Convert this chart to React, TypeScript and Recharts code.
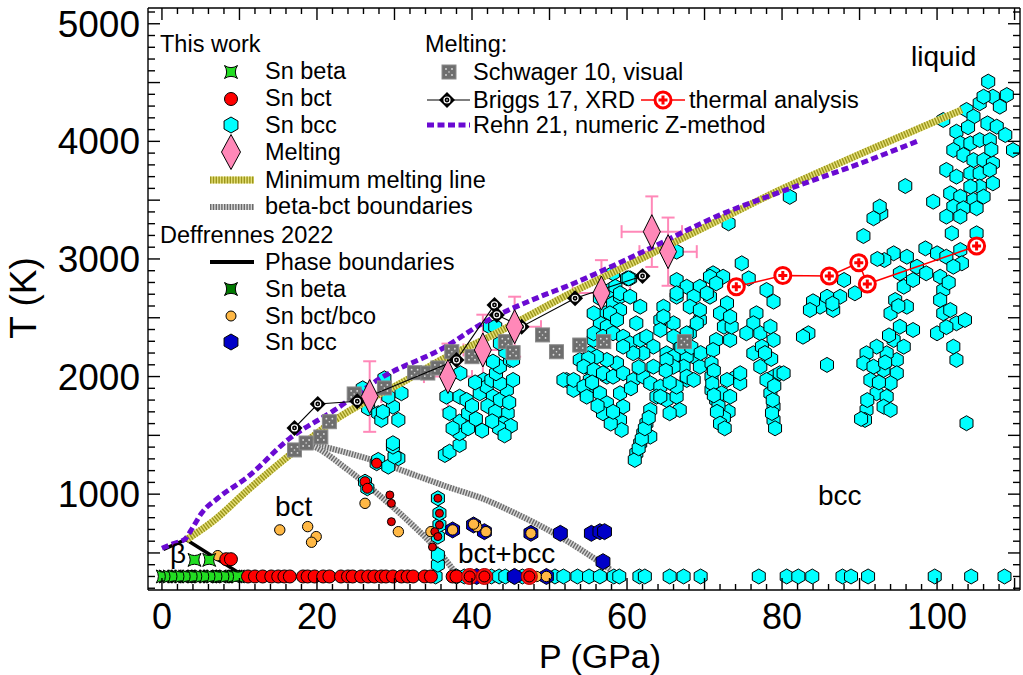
import React from "react";
import { ScatterChart, Scatter, XAxis, YAxis, ErrorBar } from "recharts";

const W = 1023;
const H = 675;
const FONT = "'Liberation Sans', Arial, Helvetica, sans-serif";

// tick values
const X_TICKS = Array.from({ length: 56 }, (_, i) => i * 2);
const Y_TICKS = Array.from({ length: 50 }, (_, i) => 200 + i * 100);

// [P (GPa), T (K)]
const MIN_MELT = [
  [3.1, 610], [6.8, 781], [11.1, 1036], [17, 1360], [22.3, 1630], [27.5, 1830],
  [31, 1950], [36.5, 2160], [41.4, 2310], [46, 2470], [52.3, 2694], [60, 2943],
  [72, 3335], [80, 3595], [90, 3890], [103.2, 4268],
];
const REHN = [
  [0, 540], [1.5, 580], [3, 620], [4, 720], [5.1, 838], [7.2, 965], [11.1, 1149],
  [16.4, 1470], [22.3, 1716], [28.3, 1990], [36.5, 2250], [41.4, 2455], [48.8, 2680],
  [52.3, 2770], [62, 3060], [72, 3375], [80, 3575], [90, 3810], [97.8, 4010],
];
const PHASE_BOUND = [[0.2, 530], [3.1, 615], [10.2, 320]];
const BB_UPPER = [
  [18.5, 1430], [19.7, 1418], [24, 1350], [28.3, 1265], [32.6, 1163], [36.9, 1061],
  [41.2, 967], [45.5, 840], [49.8, 696], [54.1, 526], [57.9, 356],
];
const BB_LOWER = [
  [18.5, 1430], [19.2, 1416], [24, 1206], [28.3, 976], [32.6, 721], [35.2, 551], [37.8, 339],
];
const SCHWAGER = [
  [17.1, 1376], [18.6, 1435], [20.5, 1486], [21.6, 1616], [24.8, 1852], [28.7, 1903],
  [32.6, 2033], [34.3, 2030], [35.6, 2073], [37.4, 2211], [40, 2169], [44.3, 2297],
  [45.3, 2203], [49.1, 2354], [50.9, 2211], [53.9, 2268], [57, 2297], [67.4, 2297],
];
const BRIGGS = [
  [17.1, 1563], [20.1, 1767], [25.2, 1790], [38, 2141], [42.9, 2609], [43.2, 2524],
  [46.4, 2424], [53.3, 2666], [62, 2855],
];
const THERMAL = [[74.1, 2764], [80.1, 2860], [86.1, 2855], [89.9, 2968], [91, 2787], [105.1, 3110]];
// [P, T, errP, errT]
const MELT = [
  [26.8, 1830, 1.5, 300], [36.9, 2000, 3.1, 280], [41.4, 2226, 2.5, 300], [45.5, 2424, 3.4, 255],
  [56.7, 2710, 3.7, 280], [63.2, 3232, 3.9, 300], [65.3, 3062, 3.7, 290],
];

const BETA_THIS = [
  [0.1, 300], [1, 300], [1.6, 300], [2.5, 300], [3.4, 300], [4.2, 300], [5.1, 300],
  [5.7, 300], [6.6, 300], [7.4, 300], [8.3, 300], [9.2, 300], [9.8, 300], [4.2, 441], [6.1, 441],
];
const BETA_DEF = [[0.5, 300], [2, 300], [3, 300], [4.7, 300], [6.2, 300], [7.8, 300], [9.5, 300]];
const BCT_THIS = [
  [11.1, 300], [12, 300], [13, 300], [14.1, 300], [15, 300], [15.8, 300], [16.5, 300],
  [18.2, 300], [18.8, 300], [19.7, 300], [20.8, 300], [21.6, 300], [23.1, 300], [24, 300],
  [24.6, 300], [25.7, 300], [26.6, 300], [27.4, 300], [28.3, 300], [28.9, 300], [29.8, 300],
  [30.9, 300], [31.7, 300], [32.4, 300], [33.9, 300], [34.7, 300], [37.5, 300], [38, 300],
  [8.3, 447], [8.9, 447],
];
const BCT_RING = [[39.7, 300], [41.6, 300], [47.4, 300]];
const BCT_MID = [[26.2, 1106], [26.5, 1050], [27.7, 1263]];
const BCT_SMALL = [
  [29.4, 993], [29.6, 922], [29.6, 766], [34.9, 551], [35.2, 681], [35.6, 965],
  [35.8, 837], [35.8, 738], [35.6, 639],
];
const BCO_DEF = [
  [7.2, 477], [15.2, 696], [18.8, 724], [19.9, 639], [19.3, 591], [26.2, 922], [30.5, 681],
  [34.7, 681], [37.5, 696], [40.6, 724], [40.2, 745], [41.8, 681], [47.6, 667],
  [41.2, 300], [48.3, 300], [49.6, 300],
];
const BCC_DEF = [
  [37.5, 696], [40.2, 738], [41.6, 681], [47.6, 667], [51.4, 667], [55.4, 667], [56.5, 681],
  [57.1, 681], [56.9, 426], [40.6, 300], [45.5, 300], [49.6, 300],
];
const BCC_THIS = [
  // 300 K row
  [35.3, 300], [38, 300], [39, 300], [42.5, 300], [43.5, 300], [44.3, 300], [45.4, 300],
  [46.5, 300], [50.7, 300], [51.8, 300], [53.6, 300], [55.1, 300], [56.5, 300], [58.3, 300],
  [59, 300], [61.6, 300], [62.3, 300], [65.5, 300], [67.3, 300], [69.5, 300], [77, 300],
  [80.6, 300], [82.1, 300], [83.9, 300], [87.8, 300], [88.9, 300], [91.1, 300], [99.7, 300],
  [104.4, 300], [108.7, 300],
  // 36 GPa column
  [35.6, 400], [35.6, 483], [35.6, 639], [35.8, 738], [35.8, 837], [35.6, 965],
  // 26-31 GPa
  [26.2, 1106], [26.5, 1050], [27.7, 1263], [27.9, 1291], [29.2, 1234], [30.5, 1305],
  [30, 1319], [29.8, 1404], [29.8, 1433], [26.6, 1730], [27.9, 1688], [28.3, 1631],
  [29.8, 1744], [30.5, 1631], [30.9, 1858], [28.7, 1985], [25.9, 1900], [29.2, 1829], [28.5, 1700],
  // 36-46 GPa
  [36.5, 1333], [37.1, 1361], [38.4, 1418], [38.4, 1518], [38.4, 1617], [37.1, 1688],
  [39.5, 1688], [36.7, 1829], [38.4, 1829], [39.3, 1801], [38.5, 2028], [41, 1858],
  [41.5, 1971], [41.9, 1914], [42.5, 1971], [42.7, 1829], [43.6, 1801], [44, 1659],
  [44.6, 1688], [44.5, 1886], [43.6, 1943], [43.1, 2028], [43.6, 2084], [42.7, 2127],
  [44.9, 2141], [45.3, 2141], [44.3, 2212], [43.6, 2283], [42.3, 2424], [43, 2424],
  [45.3, 1971], [40, 1750], [42, 1750], [43, 1700], [44, 1600], [45, 1580], [43.5, 1560],
  [42.6, 1620], [39.5, 1560], [37.5, 1560], [40.5, 1640], [41.3, 1540], [44.2, 1500],
  [44.8, 1780], [40.4, 1950],
  // 50-63 GPa
  [54.8, 2084], [55.2, 2198], [55.7, 2311], [56.5, 2424], [57.2, 2538], [58.2, 2623],
  [59.1, 2679], [60.4, 2835], [55.2, 1971], [53.9, 2141], [57.4, 1999], [52.2, 1971],
  [53.1, 1886], [54.8, 1858], [61.2, 2453], [61.7, 2594], [58.2, 2878], [60, 2835],
  [57.8, 2736], [56.5, 2666], [51.8, 1971], [53.1, 1971], [54.4, 1914], [54.8, 1829],
  [56.5, 1858], [57.4, 1773], [56.9, 1688], [59.1, 1858], [59.5, 1744], [59.1, 1631],
  [59.3, 1546], [60.2, 2835], [58.5, 2764], [59.1, 2708], [60.4, 2679], [59.1, 2566],
  [57.8, 2538], [56.5, 2453], [55.7, 2538], [57.4, 2424], [58.7, 2481], [55.7, 2368],
  [56.9, 2339], [58.2, 2368], [59.5, 2339], [60.4, 2283], [61.7, 2311], [62.5, 2339],
  [63.4, 2254], [62.1, 2198], [60.8, 2198], [59.5, 2254], [58.7, 2113], [57.4, 2141],
  [56.1, 2169], [55, 2155], [54.4, 2084], [55.7, 2056], [56.9, 2028], [58.2, 1999],
  [59.5, 2028], [60.8, 1971], [62.1, 1999], [63.4, 2084], [63, 1943], [64.3, 1914],
  [63.8, 1829], [65.1, 1801], [66.4, 1829], [66.8, 1716], [65.5, 1688], [63, 1716],
  [62.5, 1603], [62.1, 1518], [61.7, 1433], [61.2, 1348], [61, 1291], [63, 1489],
  [61.5, 1390], [61.9, 1470], [62.3, 1560], [62.8, 1650], [57.9, 1600], [58.2, 1700],
  [56.2, 1750], [55.5, 1950], [60.5, 1900], [61.5, 2080],
  // 64-72 GPa
  [66.4, 2821], [67.7, 2764], [69.4, 2764], [71.1, 2878], [66.4, 2679], [64.7, 2594],
  [64.3, 2481], [66, 2453], [68.1, 2368], [69.4, 2481], [70.7, 2679], [66.8, 2254],
  [65.1, 2198], [68.6, 2169], [67.7, 1971], [69.4, 2084], [66.4, 1914], [64.3, 1829],
  [66.4, 3062], [70.7, 2849], [72.4, 2849], [71.5, 2792], [66.4, 2708], [68.6, 2679],
  [70.3, 2708], [68.1, 2594], [69.4, 2566], [69, 2453], [67.7, 2368], [64.7, 2509],
  [64.3, 2396], [66, 2339], [67.7, 2169], [67.3, 2084], [67.7, 1999], [68.6, 1971],
  [66, 2169], [66, 2084], [65.1, 2141], [65.5, 1950], [65, 2050], [67, 2250], [68.3, 2250],
  [69.5, 2200],
  // 70-81 GPa
  [72.9, 2623], [72, 2538], [72.5, 2424], [71.5, 2311], [71.1, 2226], [70.9, 2113],
  [70.9, 1999], [70.9, 1886], [71.5, 1801], [73.3, 2311], [73.5, 2424], [73.3, 2509],
  [74.1, 1999], [74.6, 1943], [73.1, 1702], [72.2, 1858], [72.9, 1971], [73.3, 1829],
  [74.6, 2028], [71.8, 1750], [72.5, 1650], [71.2, 2050], [71, 1940], [71.2, 1840],
  [71.6, 1700], [72, 1600], [72.6, 1560],
  [81, 3528], [73.1, 3303], [74.8, 2963], [75.7, 2835], [78, 2736], [78.9, 2637],
  [76.7, 2538], [76.3, 2453], [77.2, 2368], [78.5, 2424], [78.9, 2311], [75.4, 2368],
  [76.3, 2198], [77.2, 2084], [78.9, 1999], [79.7, 2028], [78.5, 1858], [78.9, 1744],
  [78.9, 1631], [79.1, 1560], [80.2, 2028], [78, 1971], [77.4, 2254], [78.7, 1690],
  [78.8, 1800], [79, 1920], [78.6, 2150], [77.8, 2200],
  // 82-96 GPa
  [95.9, 3620], [99.5, 3487], [92.8, 3388], [91.8, 3346], [90.5, 3195], [92.6, 3445],
  [84.9, 2594], [85.8, 2679], [87.5, 2679], [86.6, 2566], [83.4, 2368], [85.8, 2099],
  [89.4, 2708], [88, 2821], [84, 2640], [86.5, 2620], [83.6, 2566], [82.7, 2339],
  [94.4, 3048], [96.1, 3019], [93.2, 2991], [92.3, 3000], [95.2, 2878], [95.7, 2764],
  [96.9, 2821], [94.6, 2651], [94, 2538], [96.1, 2594], [96.9, 2396], [95.2, 2424],
  [94.4, 2311], [95.7, 2254], [94.8, 2141], [93.5, 2198], [93.1, 2056], [94.8, 2028],
  [92.2, 2254], [90.9, 2198], [90.5, 2113], [91.8, 2084], [91.4, 1971], [92.2, 1858],
  [93.5, 1829], [94, 1943], [93.1, 1744], [90.9, 1716], [90.7, 1631], [94, 1716],
  [92.5, 1950], [91, 1800], [90.2, 1640], [93.8, 2350], [95, 2600], [93.3, 2120],
  // 97-110 GPa
  [98.5, 3090], [100, 3048], [101.2, 3019], [103, 3076], [103.2, 2963], [102.1, 2934],
  [97.4, 2934], [98.6, 2878], [100.4, 2849], [100.8, 2736], [100.4, 2651], [100.8, 2538],
  [101.7, 2566], [102.5, 2453], [103.6, 2481], [100, 2368], [102.1, 2254], [102.5, 2141],
  [101.9, 3218], [105.1, 3218], [103.8, 1603], [101.5, 2800], [101.2, 2420],
  [106.6, 4508], [100.8, 4182], [103.8, 4267], [105.5, 4324], [107.2, 4380], [109, 4394],
  [106, 4380], [108.1, 4295], [104.7, 4210], [106.5, 4153], [107.7, 4125], [102.5, 4082],
  [103, 3983], [104.3, 3983], [105.5, 4011], [106.8, 4011], [108.8, 4054], [109.8, 3926],
  [102.1, 3926], [103.4, 3884], [104.7, 3841], [106, 3841], [107.2, 3813], [101.2, 3757],
  [102.5, 3700], [104.3, 3728], [105.5, 3728], [106.8, 3757], [107.2, 3643], [105.5, 3615],
  [104.3, 3615], [101.7, 3558], [103, 3530], [104.7, 3501], [106, 3530], [102.1, 3445],
  [103.4, 3431], [105.1, 3431], [101.2, 3360], [103, 3360], [104, 4120], [107, 3930],
];

const toPts = (a: number[][]) => a.map(([P, T]) => ({ P, T }));
const meltPts = MELT.map(([P, T, eP, eT]) => ({ P, T, eP, eT }));

// colours
const CYAN = "#00ffff";
const GREEN = "#22dd22";
const DKGREEN = "#007a00";
const ORANGE = "#ffb845";
const BLUE = "#0000c8";
const PINK = "#ff88b8";
const PURPLE = "#6a0ad2";

// marker shapes
function Hex({ cx, cy, fill, r = 7.5 }: any) {
  const w = r * 0.866;
  const d = `M${cx},${cy - r}L${cx + w},${cy - r / 2}L${cx + w},${cy + r / 2}L${cx},${cy + r}L${cx - w},${cy + r / 2}L${cx - w},${cy - r / 2}Z`;
  return <path d={d} fill={fill} stroke="#000" strokeWidth={1} />;
}
function Star({ cx, cy, fill }: any) {
  const s = 6.5;
  const k = 2.2;
  const d = `M${cx - s},${cy - s}Q${cx},${cy - k} ${cx + s},${cy - s}Q${cx + k},${cy} ${cx + s},${cy + s}Q${cx},${cy + k} ${cx - s},${cy + s}Q${cx - k},${cy} ${cx - s},${cy - s}Z`;
  return <path d={d} fill={fill} stroke="#000" strokeWidth={1} />;
}
function Dot({ cx, cy, fill, r }: any) {
  return <circle cx={cx} cy={cy} r={r} fill={fill} stroke="#000" strokeWidth={1} />;
}
function RedRing({ cx, cy }: any) {
  return (
    <g>
      <circle cx={cx} cy={cy} r={8} fill="#ff1010" stroke="#b00000" strokeWidth={1} />
      <circle cx={cx} cy={cy} r={5.5} fill="#ff0000" stroke="#000" strokeWidth={1} />
    </g>
  );
}
function Diamond({ cx, cy, w = 8.5, h = 17 }: any) {
  return (
    <path
      d={`M${cx},${cy - h}L${cx + w},${cy}L${cx},${cy + h}L${cx - w},${cy}Z`}
      fill={PINK}
      stroke="#000"
      strokeWidth={1}
    />
  );
}
function Square({ cx, cy }: any) {
  const o = 3;
  return (
    <g>
      <rect x={cx - 7} y={cy - 7} width={14} height={14} fill="#6e6e6e" stroke="#8a8a8a" strokeWidth={1} />
      <circle cx={cx - o} cy={cy - o} r={0.9} fill="#ddd" />
      <circle cx={cx + o} cy={cy - o} r={0.9} fill="#ddd" />
      <circle cx={cx - o} cy={cy + o} r={0.9} fill="#ddd" />
      <circle cx={cx + o} cy={cy + o} r={0.9} fill="#ddd" />
      <circle cx={cx} cy={cy} r={0.8} fill="#ddd" />
    </g>
  );
}
function BriggsMark({ cx, cy }: any) {
  return (
    <g>
      <path d={`M${cx},${cy - 8}L${cx + 8},${cy}L${cx},${cy + 8}L${cx - 8},${cy}Z`} fill="#000" />
      <circle cx={cx} cy={cy} r={3} fill="none" stroke="#fff" strokeWidth={1.2} />
      <circle cx={cx} cy={cy} r={0.8} fill="#fff" />
    </g>
  );
}
function ThermalMark({ cx, cy }: any) {
  return (
    <g>
      <circle cx={cx} cy={cy} r={8} fill="#fff" stroke="#ff0000" strokeWidth={3} />
      <path d={`M${cx - 4.5},${cy}H${cx + 4.5}M${cx},${cy - 4.5}V${cy + 4.5}`} stroke="#ff0000" strokeWidth={3} />
    </g>
  );
}
const noShape = () => <g />;

// inward ticks on all four sides
function BottomTick(p: any) {
  const v = p.payload.value;
  const len = v % 10 === 0 ? 12 : 6;
  return (
    <g>
      <line x1={p.x} x2={p.x} y1={p.y} y2={p.y - len} stroke="#000" strokeWidth={1.4} />
      {v % 20 === 0 ? (
        <text x={p.x} y={p.y + 39} textAnchor="middle" fontSize={36} fontFamily={FONT} fill="#000">
          {v}
        </text>
      ) : null}
    </g>
  );
}
function TopTick(p: any) {
  const v = p.payload.value;
  const len = v % 10 === 0 ? 12 : 6;
  return <line x1={p.x} x2={p.x} y1={p.y} y2={p.y + len} stroke="#000" strokeWidth={1.4} />;
}
function LeftTick(p: any) {
  const v = p.payload.value;
  const len = v % 500 === 0 ? 12 : 7;
  return (
    <g>
      <line x1={p.x} x2={p.x + len} y1={p.y} y2={p.y} stroke="#000" strokeWidth={1.4} />
      {v % 1000 === 0 ? (
        <text x={p.x - 8} y={p.y + 13} textAnchor="end" fontSize={37} fontFamily={FONT} fill="#000">
          {v}
        </text>
      ) : null}
    </g>
  );
}
function RightTick(p: any) {
  const v = p.payload.value;
  const len = v % 500 === 0 ? 12 : 7;
  return <line x1={p.x} x2={p.x - len} y1={p.y} y2={p.y} stroke="#000" strokeWidth={1.4} />;
}

function Overlay() {
  const t = (x: number, y: number, s: string, size = 23.5) => (
    <text x={x} y={y} fontSize={size} fontFamily={FONT} fill="#000">
      {s}
    </text>
  );
  return (
    <svg width={W} height={H} style={{ position: "absolute", left: 0, top: 0, pointerEvents: "none" }}>
      {/* left legend */}
      {t(160, 52, "This work")}
      <Star cx={231} cy={72} fill={GREEN} />
      {t(265, 79, "Sn beta")}
      <Dot cx={231} cy={99} r={6.5} fill="#ff0000" />
      {t(265, 106, "Sn bct")}
      <Hex cx={231} cy={125} fill={CYAN} r={8} />
      {t(265, 133, "Sn bcc")}
      <Diamond cx={231} cy={152} w={9.5} h={17.5} />
      {t(265, 160, "Melting")}
      <line x1={210} x2={254} y1={180} y2={180} stroke="#e4df76" strokeWidth={7} />
      <line x1={210} x2={254} y1={180} y2={180} stroke="#9b951c" strokeWidth={7} strokeDasharray="1.4 1.4" />
      {t(265, 188, "Minimum melting line")}
      <line x1={210} x2={254} y1={207} y2={207} stroke="#d6d6d6" strokeWidth={6} />
      <line x1={210} x2={254} y1={207} y2={207} stroke="#6a6a6a" strokeWidth={6} strokeDasharray="1.4 1.4" />
      {t(265, 214, "beta-bct boundaries")}
      {t(160, 243, "Deffrennes 2022")}
      <line x1={210} x2={254} y1={262} y2={262} stroke="#000" strokeWidth={4} />
      {t(265, 270, "Phase boundaries")}
      <Star cx={231} cy={289} fill={DKGREEN} />
      {t(265, 297, "Sn beta")}
      <Dot cx={231} cy={316} r={5} fill={ORANGE} />
      {t(265, 324, "Sn bct/bco")}
      <Hex cx={231} cy={342} fill={BLUE} r={8} />
      {t(265, 350, "Sn bcc")}

      {/* right legend */}
      {t(425, 52, "Melting:")}
      <Square cx={449} cy={72} />
      {t(473, 80, "Schwager 10, visual")}
      <line x1={427} x2={470} y1={100} y2={100} stroke="#000" strokeWidth={1.2} />
      <BriggsMark cx={447} cy={100} />
      {t(473, 108, "Briggs 17, XRD")}
      <line x1={641} x2={685} y1={100} y2={100} stroke="#ff0000" strokeWidth={1.5} />
      <ThermalMark cx={663} cy={100} />
      {t(689, 108, "thermal analysis")}
      <line x1={427} x2={470} y1={125} y2={125} stroke={PURPLE} strokeWidth={5} strokeDasharray="7 3.5" />
      {t(473, 133, "Rehn 21, numeric Z-method")}

      {/* region labels */}
      {t(911, 66, "liquid", 28)}
      {t(275, 516, "bct", 28)}
      {t(458, 563, "bct+bcc", 28)}
      {t(818, 505, "bcc", 28)}
      {t(170, 563, "β", 28)}

      {/* axis titles */}
      <text x={600} y={667.5} textAnchor="middle" fontSize={34} fontFamily={FONT} fill="#000">
        P (GPa)
      </text>
      <text
        x={36}
        y={298}
        textAnchor="middle"
        fontSize={37}
        fontFamily={FONT}
        fill="#000"
        transform="rotate(-90 36 298)"
      >
        T (K)
      </text>
    </svg>
  );
}

export default function App() {
  const axisLine = { stroke: "#000", strokeWidth: 1.4 };
  return (
    <div style={{ position: "absolute", left: 0, top: 0, width: W, height: H, background: "#fff" }}>
      <ScatterChart width={W} height={H} margin={{ top: 7, right: 2, bottom: 8, left: 8 }}>
        <XAxis
          xAxisId="b"
          type="number"
          dataKey="P"
          domain={[-1.8, 110.7]}
          allowDataOverflow
          ticks={X_TICKS}
          interval={0}
          height={77}
          tickSize={0}
          tickMargin={0}
          tickLine={false}
          axisLine={axisLine}
          tick={(p: any) => <BottomTick {...p} />}
        />
        <XAxis
          xAxisId="t"
          orientation="top"
          type="number"
          dataKey="P"
          domain={[-1.8, 110.7]}
          allowDataOverflow
          ticks={X_TICKS}
          interval={0}
          height={1}
          tickSize={0}
          tickMargin={0}
          tickLine={false}
          axisLine={axisLine}
          tick={(p: any) => <TopTick {...p} />}
        />
        <YAxis
          yAxisId="l"
          type="number"
          dataKey="T"
          domain={[185, 5134]}
          allowDataOverflow
          ticks={Y_TICKS}
          interval={0}
          width={140}
          tickSize={0}
          tickMargin={0}
          tickLine={false}
          axisLine={axisLine}
          tick={(p: any) => <LeftTick {...p} />}
        />
        <YAxis
          yAxisId="r"
          orientation="right"
          type="number"
          dataKey="T"
          domain={[185, 5134]}
          allowDataOverflow
          ticks={Y_TICKS}
          interval={0}
          width={1}
          tickSize={0}
          tickMargin={0}
          tickLine={false}
          axisLine={axisLine}
          tick={(p: any) => <RightTick {...p} />}
        />

        {/* beta-bct boundaries */}
        <Scatter xAxisId="b" yAxisId="l" data={toPts(BB_UPPER)} shape={noShape} line={{ stroke: "#d6d6d6", strokeWidth: 6 }} lineJointType="monotoneX" isAnimationActive={false} />
        <Scatter xAxisId="b" yAxisId="l" data={toPts(BB_UPPER)} shape={noShape} line={{ stroke: "#6a6a6a", strokeWidth: 6, strokeDasharray: "1.4 1.4" }} lineJointType="monotoneX" isAnimationActive={false} />
        <Scatter xAxisId="b" yAxisId="l" data={toPts(BB_LOWER)} shape={noShape} line={{ stroke: "#d6d6d6", strokeWidth: 6 }} lineJointType="monotoneX" isAnimationActive={false} />
        <Scatter xAxisId="b" yAxisId="l" data={toPts(BB_LOWER)} shape={noShape} line={{ stroke: "#6a6a6a", strokeWidth: 6, strokeDasharray: "1.4 1.4" }} lineJointType="monotoneX" isAnimationActive={false} />
        {/* Deffrennes phase boundaries */}
        <Scatter xAxisId="b" yAxisId="l" data={toPts(PHASE_BOUND)} shape={noShape} line={{ stroke: "#000", strokeWidth: 3.5 }} isAnimationActive={false} />

        {/* phases */}
        <Scatter xAxisId="b" yAxisId="l" data={toPts(BCC_THIS)} shape={(p: any) => <Hex cx={p.cx} cy={p.cy} fill={CYAN} />} isAnimationActive={false} />
        <Scatter xAxisId="b" yAxisId="l" data={toPts(BCC_DEF)} shape={(p: any) => <Hex cx={p.cx} cy={p.cy} fill={BLUE} r={8} />} isAnimationActive={false} />
        <Scatter xAxisId="b" yAxisId="l" data={toPts(BCO_DEF)} shape={(p: any) => <Dot cx={p.cx} cy={p.cy} fill={ORANGE} r={5.2} />} isAnimationActive={false} />
        <Scatter xAxisId="b" yAxisId="l" data={toPts(BETA_DEF)} shape={(p: any) => <Star cx={p.cx} cy={p.cy} fill={DKGREEN} />} isAnimationActive={false} />
        <Scatter xAxisId="b" yAxisId="l" data={toPts(BETA_THIS)} shape={(p: any) => <Star cx={p.cx} cy={p.cy} fill={GREEN} />} isAnimationActive={false} />
        <Scatter xAxisId="b" yAxisId="l" data={toPts(BCT_THIS)} shape={(p: any) => <Dot cx={p.cx} cy={p.cy} fill="#ff0000" r={6.5} />} isAnimationActive={false} />
        <Scatter xAxisId="b" yAxisId="l" data={toPts(BCT_RING)} shape={(p: any) => <RedRing cx={p.cx} cy={p.cy} />} isAnimationActive={false} />
        <Scatter xAxisId="b" yAxisId="l" data={toPts(BCT_MID)} shape={(p: any) => <Dot cx={p.cx} cy={p.cy} fill="#ff0000" r={5} />} isAnimationActive={false} />
        <Scatter xAxisId="b" yAxisId="l" data={toPts(BCT_SMALL)} shape={(p: any) => <Dot cx={p.cx} cy={p.cy} fill="#e00000" r={4} />} isAnimationActive={false} />

        {/* melting lines */}
        <Scatter xAxisId="b" yAxisId="l" data={toPts(MIN_MELT)} shape={noShape} line={{ stroke: "#e4df76", strokeWidth: 7 }} lineJointType="monotoneX" isAnimationActive={false} />
        <Scatter xAxisId="b" yAxisId="l" data={toPts(MIN_MELT)} shape={noShape} line={{ stroke: "#9b951c", strokeWidth: 7, strokeDasharray: "1.4 1.4" }} lineJointType="monotoneX" isAnimationActive={false} />
        <Scatter xAxisId="b" yAxisId="l" data={toPts(REHN)} shape={noShape} line={{ stroke: PURPLE, strokeWidth: 5, strokeDasharray: "7 3.5" }} lineJointType="monotoneX" isAnimationActive={false} />

        {/* melting data */}
        <Scatter xAxisId="b" yAxisId="l" data={toPts(SCHWAGER)} shape={(p: any) => <Square cx={p.cx} cy={p.cy} />} isAnimationActive={false} />
        <Scatter xAxisId="b" yAxisId="l" data={toPts(BRIGGS)} shape={(p: any) => <BriggsMark cx={p.cx} cy={p.cy} />} line={{ stroke: "#000", strokeWidth: 1.2 }} isAnimationActive={false} />
        {/* same domains on the mirrored axes, so this series also keeps the top/right frame drawn */}
        <Scatter xAxisId="t" yAxisId="r" data={toPts(THERMAL)} shape={(p: any) => <ThermalMark cx={p.cx} cy={p.cy} />} line={{ stroke: "#ff0000", strokeWidth: 1.5 }} isAnimationActive={false} />
        <Scatter xAxisId="b" yAxisId="l" data={meltPts} shape={noShape} isAnimationActive={false}>
          <ErrorBar dataKey="eT" direction="y" width={6.5} stroke={PINK} strokeWidth={2} />
          <ErrorBar dataKey="eP" direction="x" width={6.5} stroke={PINK} strokeWidth={2} />
        </Scatter>
        <Scatter xAxisId="b" yAxisId="l" data={meltPts} shape={(p: any) => <Diamond cx={p.cx} cy={p.cy} />} isAnimationActive={false} />
      </ScatterChart>
      <Overlay />
    </div>
  );
}
